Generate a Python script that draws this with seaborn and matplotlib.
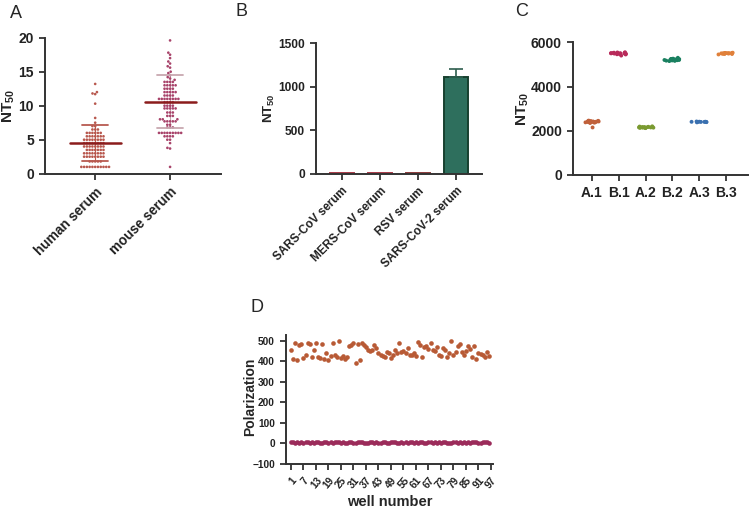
import numpy as np
import pandas as pd
import matplotlib
matplotlib.use("Agg")
import matplotlib.pyplot as plt
import seaborn as sns

# ---- panel A: NT50 of human vs mouse serum ----
human_serum = [1.0]*11 + [1.8]*5 + [2.5]*8 + [3.0]*8 + [3.5]*7 + [4.0]*8 + [4.5]*8 + \
    [5.0]*8 + [5.5]*7 + [6.0]*6 + [6.5]*3 + [7.0]*2 + [7.5, 8.2, 10.3, 11.7, 11.8, 12.0, 13.2]
mouse_serum = [19.6, 17.8, 17.5, 17.0, 16.5, 16.2, 15.8, 15.6, 15.0, 14.8, 14.5, 14.2, 14.0, 13.8] + \
    [13.5]*4 + [13.0]*5 + [12.5]*4 + [12.0]*5 + [11.5]*4 + [11.0]*8 + [10.5]*4 + [10.0]*4 + \
    [9.6]*5 + [9.0]*3 + [8.5]*3 + [8.0]*3 + [7.7]*5 + [7.2]*2 + [6.8]*3 + [6.0]*9 + \
    [5.5]*4 + [5.0]*2 + [4.5, 3.8, 3.7, 1.0]
serum_names = ["human serum", "mouse serum"]
serum_mean = [4.5, 10.6]
serum_sd = [2.6, 3.85]

# ---- panel B: cross-neutralisation ----
sera_b = ["SARS-CoV serum", "MERS-CoV serum", "RSV serum", "SARS-CoV-2 serum"]
nt50_b = [9, 9, 7, 1110]
sd_b = [0, 0, 0, 90]

# ---- panel C: replicate plates ----
plate_groups = ["A.1", "B.1", "A.2", "B.2", "A.3", "B.3"]
plate_vals = {
    "A.1": [2400, 2420, 2380, 2450, 2400, 2350, 2430, 2410, 2390, 2440, 2370, 2420, 2400, 2150, 2460, 2380, 2410, 2430],
    "B.1": [5500, 5520, 5480, 5550, 5450, 5510, 5490, 5530, 5470, 5400, 5500, 5520, 5540, 5460, 5500, 5510],
    "A.2": [2150, 2170, 2130, 2200, 2140, 2160, 2180, 2120, 2150, 2170, 2190, 2140, 2160, 2130],
    "B.2": [5200, 5250, 5180, 5220, 5150, 5300, 5210, 5190, 5230, 5170, 5260, 5200, 5240, 5160],
    "A.3": [2400, 2410, 2390, 2400, 2420, 2380, 2400, 2410, 2395, 2405],
    "B.3": [5500, 5520, 5480, 5510, 5490, 5530, 5470, 5500, 5510, 5520, 5490, 5480, 5500, 5510, 5450, 5500],
}
plate_colors = ["#c0603a", "#b82a5a", "#7a9a30", "#1a8060", "#3a70b0", "#e0803a"]

# ---- panel D: polarization per well ----
pol_high = [455, 410, 488, 405, 480, 485, 415, 430, 490, 485,
            420, 455, 490, 420, 415, 485, 410, 440, 405, 425,
            490, 430, 420, 500, 415, 425, 410, 420, 475, 480,
            490, 390, 485, 405, 490, 480, 470, 455, 450, 455,
            480, 465, 440, 430, 425, 420, 445, 440, 415, 430,
            455, 440, 490, 445, 450, 440, 465, 430, 430, 440,
            425, 495, 480, 420, 470, 475, 460, 490, 455, 450,
            470, 430, 425, 465, 455, 420, 440, 500, 430, 445,
            475, 485, 445, 430, 450, 475, 460, 420, 475, 410,
            440, 435, 430, 420, 445, 425]
pol_low = [5, 7, 4, 8, 3, 6, 2, 5, 7, 4, 6, 3, 5, 8, 2, 4, 6, 7, 3, 5,
           4, 6, 8, 5, 3, 7, 4, 2, 6, 5, 3, 4, 7, 5, 8, 2, 4, 3, 6, 5,
           4, 7, 3, 2, 5, 6, 4, 3, 7, 5, 6, 4, 2, 5, 3, 6, 4, 7, 5, 3,
           8, 4, 6, 5, 3, 2, 6, 7, 4, 5, 3, 6, 4, 5, 7, 3, 2, 4, 6, 5,
           3, 7, 4, 6, 2, 5, 4, 6, 8, 5, 3, 4, 6, 5, 7, 4]
well_ticks = list(range(1, 98, 6))

sns.set_style("ticks")
plt.rcParams['font.family'] = ['Liberation Sans', 'DejaVu Sans']
plt.rcParams['font.weight'] = 'bold'
plt.rcParams['axes.labelweight'] = 'bold'
plt.rcParams['mathtext.fontset'] = 'custom'
plt.rcParams['mathtext.rm'] = 'Liberation Sans'
plt.rcParams['mathtext.bf'] = 'Liberation Sans:bold'

W, H = 750, 512
fig = plt.figure(figsize=(7.5, 5.12), dpi=100)


def px_axes(x0, x1, ytop, ybot):
    return fig.add_axes([x0 / W, 1 - ybot / H, (x1 - x0) / W, (ybot - ytop) / H])


def prism(ax, fs):
    for s in ["top", "right"]:
        ax.spines[s].set_visible(False)
    for s in ["left", "bottom"]:
        ax.spines[s].set_linewidth(1.4)
        ax.spines[s].set_color("#333333")
    ax.tick_params(width=1.3, length=4.5, color="#333333", labelsize=fs, labelcolor="#222222")


def rotate(ax, rot, fs):
    for t in ax.get_xticklabels():
        t.set_rotation(rot)
        t.set_ha("right")
        t.set_rotation_mode("anchor")
        t.set_fontsize(fs)


# panel A
axA = px_axes(45, 221, 37.7, 173.7)
dfA = pd.DataFrame({"serum": ["human serum"]*len(human_serum) + ["mouse serum"]*len(mouse_serum),
                    "NT50": human_serum + mouse_serum})
sns.swarmplot(data=dfA, x="serum", y="NT50", order=serum_names, hue="serum",
              palette=["#b8584e", "#a8436a"], size=1.9, legend=False, ax=axA)
sd_cols = ["#b85a50", "#c8a8b0"]
for i, (m, s) in enumerate(zip(serum_mean, serum_sd)):
    axA.plot([i - 0.17, i + 0.17], [m + s]*2, color=sd_cols[i], lw=1.3, zorder=3)
    axA.plot([i - 0.17, i + 0.17], [m - s]*2, color=sd_cols[i], lw=1.3, zorder=3)
    axA.plot([i, i], [m - s, m + s], color=sd_cols[i], lw=0.8, zorder=1)
    axA.plot([i - 0.34, i + 0.34], [m, m], color="#8b1c1c", lw=1.8, zorder=4)
axA.set_xlim(-0.67, 1.68)
axA.set_ylim(0, 20)
axA.set_yticks([0, 5, 10, 15, 20])
axA.set_xlabel("")
axA.set_ylabel("NT$_{50}$", fontsize=11)
axA.yaxis.set_label_coords(-0.16, 0.5)
prism(axA, 10)
rotate(axA, 45, 9.8)
fig.text(10 / W, 1 - 14 / H, "A", fontsize=13, fontweight="normal", va="center")

# panel B
axB = px_axes(316, 482, 43.3, 173.7)
dfB = pd.DataFrame({"serum": sera_b, "NT50": nt50_b})
sns.barplot(data=dfB, x="serum", y="NT50", hue="serum", order=sera_b,
            palette=["#a83a48", "#a83a48", "#8a3a3a", "#237a62"], width=0.63,
            legend=False, ax=axB)
edge_cols = ["#a83a48", "#a83a48", "#8a3a3a", "#17402f"]
for p, c in zip(axB.patches, edge_cols):
    p.set_edgecolor(c)
    p.set_linewidth(1.4)
axB.errorbar(x=[3], y=[nt50_b[3]], yerr=[[0], [sd_b[3]]], fmt="none",
             ecolor="#2d5e4e", capsize=5, elinewidth=1.2, capthick=1.2, zorder=1)
axB.set_xlim(-0.68, 3.68)
axB.set_ylim(0, 1500)
axB.set_yticks([0, 500, 1000, 1500])
axB.set_xlabel("")
axB.set_ylabel("NT$_{50}$", fontsize=9.5)
axB.yaxis.set_label_coords(-0.235, 0.5)
prism(axB, 8.6)
rotate(axB, 45, 8.5)
fig.text(235 / W, 1 - 12 / H, "B", fontsize=13, fontweight="normal", va="center")

# panel C
axC = px_axes(573, 748, 42.3, 175)
dfC = pd.DataFrame([(g, v) for g in plate_groups for v in plate_vals[g]], columns=["plate", "NT50"])
sns.stripplot(data=dfC, x="plate", y="NT50", hue="plate", order=plate_groups,
              palette=plate_colors, jitter=0.3, size=2.8, legend=False, ax=axC)
axC.set_xlim(-0.71, 5.82)
axC.set_ylim(0, 6000)
axC.set_yticks([0, 2000, 4000, 6000])
axC.set_xlabel("")
axC.set_ylabel("NT$_{50}$", fontsize=11)
axC.yaxis.set_label_coords(-0.24, 0.5)
prism(axC, 10)
fig.text(515 / W, 1 - 12 / H, "C", fontsize=13, fontweight="normal", va="center")

# panel D
axD = px_axes(286, 493, 334.5, 464)
sns.scatterplot(x=np.arange(1, len(pol_high) + 1), y=pol_high, color="#b85a35",
                s=11, linewidth=0, ax=axD)
sns.scatterplot(x=np.arange(1, len(pol_low) + 1), y=pol_low, color="#9b2b5a",
                s=11, linewidth=0, ax=axD)
axD.set_xlim(-1.4, 98)
axD.set_ylim(-100, 530)
axD.set_yticks([-100, 0, 100, 200, 300, 400, 500])
axD.set_xticks(well_ticks)
axD.set_xticklabels([str(w) for w in well_ticks])
axD.set_xlabel("well number", fontsize=10.5)
axD.set_ylabel("Polarization", fontsize=10)
axD.yaxis.set_label_coords(-0.14, 0.52)
axD.xaxis.set_label_coords(0.5, -0.24)
prism(axD, 7.3)
rotate(axD, 50, 7.3)
fig.text(250 / W, 1 - 307 / H, "D", fontsize=13, fontweight="normal", va="center")

fig.canvas.draw()
for ax in [axA, axB, axC, axD]:
    for t in ax.get_xticklabels() + ax.get_yticklabels():
        t.set_fontweight("bold")

fig.savefig("out.png", dpi=100)
